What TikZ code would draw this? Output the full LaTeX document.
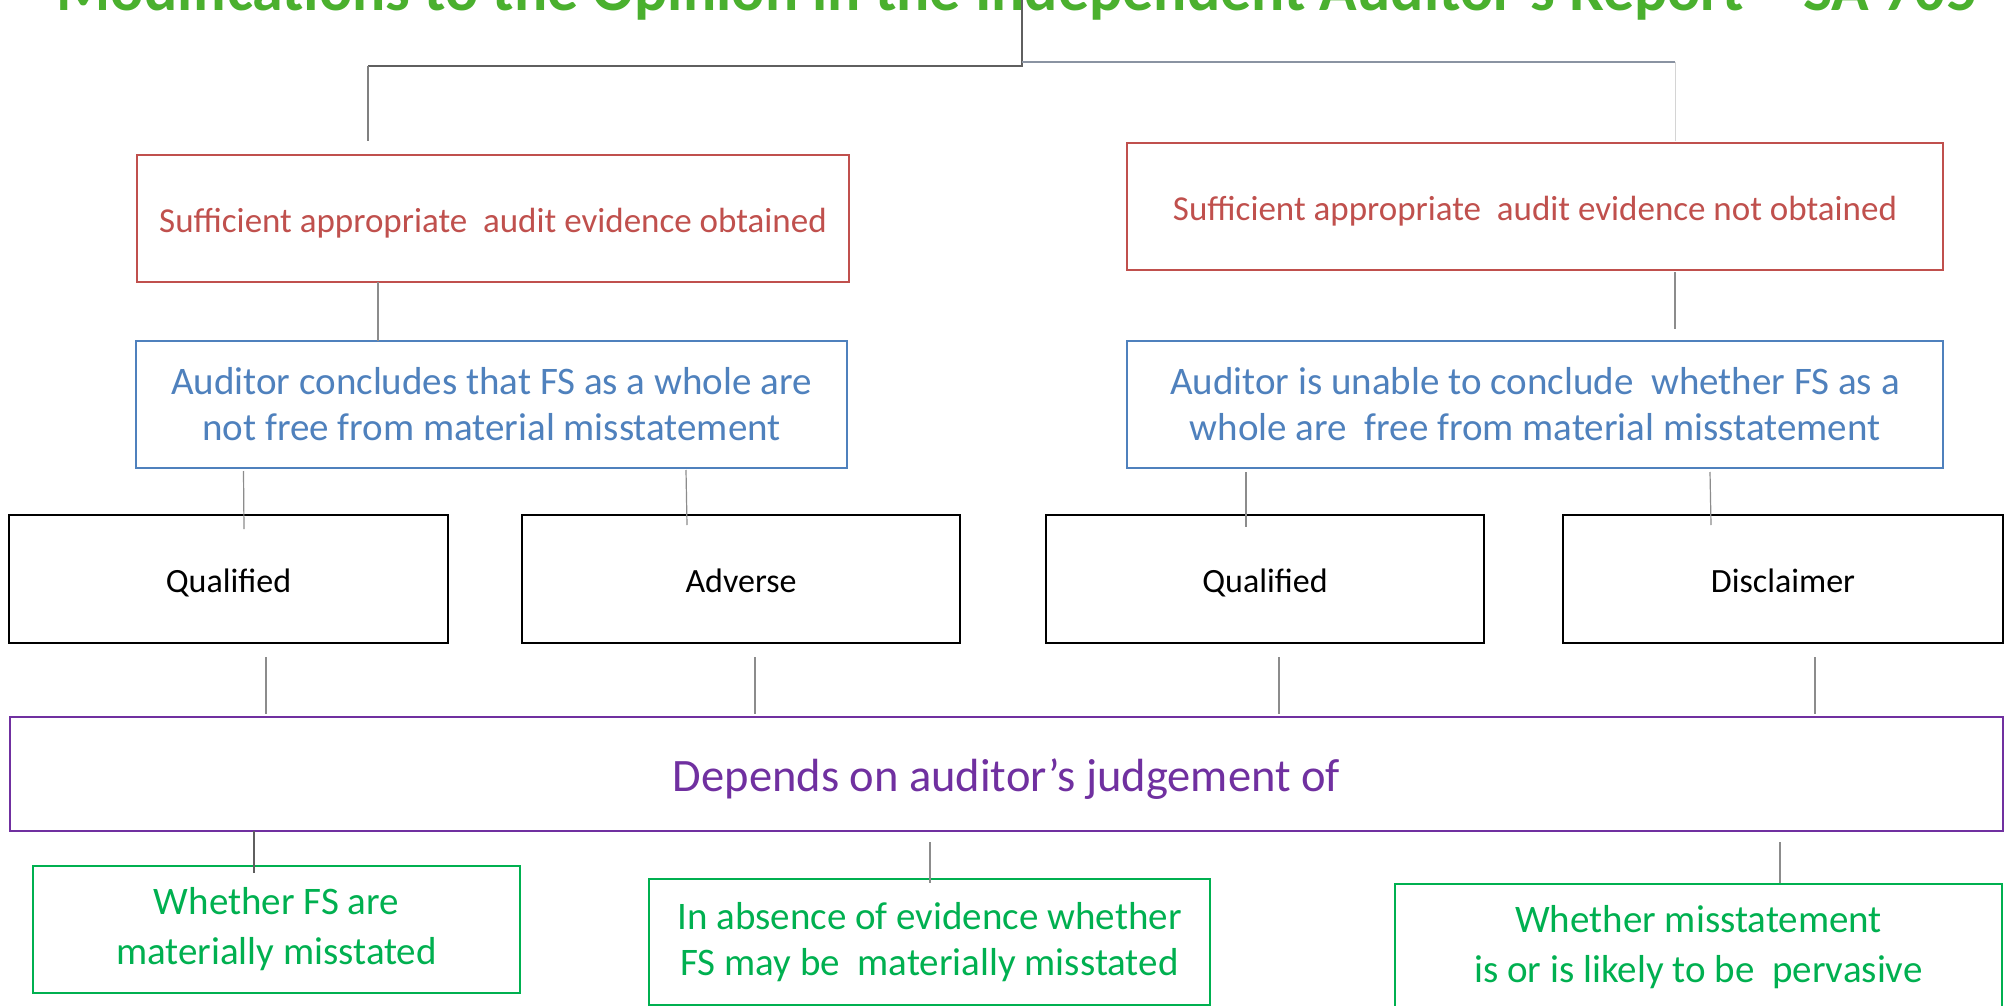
\documentclass[tikz,border=0pt]{standalone}
\usepackage{fontspec}
\setmainfont{Carlito}
\definecolor{tgreen}{RGB}{74,176,46}
\definecolor{cred}{HTML}{C0504D}
\definecolor{cblue}{HTML}{4F81BD}
\definecolor{cpurple}{HTML}{7030A0}
\definecolor{cgreen}{HTML}{00B050}
\definecolor{lgray}{HTML}{8C8C8C}
\definecolor{dgray}{HTML}{5F5F5F}
\definecolor{bgray}{HTML}{8A93A2}
\definecolor{fgray}{HTML}{D4D4D4}
\begin{document}
\begin{tikzpicture}[x=1pt,y=-1pt,
  box/.style={draw, line width=2pt, rectangle, inner sep=0pt, outer sep=0pt, align=center},
  redbox/.style={box, text height=27pt, text depth=0pt, draw=cred, text=cred, font=\fontsize{35}{42}\selectfont, minimum height=127pt},
  bluebox/.style={box, draw=cblue, text=cblue, font=\fontsize{39}{46}\selectfont, minimum height=127pt},
  blackbox/.style={box, text height=26.4pt, text depth=0pt, draw=black, text=black, font=\fontsize{34}{40}\selectfont, minimum height=128pt},
  purplebox/.style={box, text height=34.3pt, text depth=0pt, draw=cpurple, text=cpurple, font=\fontsize{46.5}{54}\selectfont, minimum height=114pt},
  greenbox/.style={box, draw=cgreen, text=cgreen, font=\fontsize{39}{48}\selectfont, minimum height=126pt},
  conn/.style={draw=lgray, line width=1.2pt},
  busdark/.style={draw=dgray, line width=1.6pt},
  busblue/.style={draw=bgray, line width=2pt},
  busfaint/.style={draw=fgray, line width=1pt}]
\useasboundingbox (0,0) rectangle (2013,1006);
\clip (0,0) rectangle (2013,1006);
\fill[white] (0,0) rectangle (2013,1006);

% title
\node[font=\bfseries\fontsize{62}{64}\selectfont, text=tgreen, anchor=base, inner sep=0pt] (title) at (1017,11)
  {Modifications to the Opinion in the Independent Auditor’s Report – SA 705};

% boxes
\node[redbox, minimum width=712pt] (R1) at (493,218.5) {Sufficient appropriate~ audit evidence obtained};
\node[redbox, minimum width=816pt] (R2) at (1535,206.5) {Sufficient appropriate~ audit evidence not obtained};
\node[bluebox, minimum width=711pt] (B1) at (491.5,404.5) {Auditor concludes that FS as a whole are\\not free from material misstatement};
\node[bluebox, minimum width=816pt] (B2) at (1535,404.5) {Auditor is unable to conclude~ whether FS as a\\whole are~ free from material misstatement};
\node[blackbox, minimum width=439pt] (Q1) at (228.5,579) {Qualified};
\node[blackbox, minimum width=438pt] (A) at (741,579) {Adverse};
\node[blackbox, minimum width=438pt] (Q2) at (1265,579) {Qualified};
\node[blackbox, minimum width=440pt] (Dc) at (1783,579) {Disclaimer};
\node[purplebox, minimum width=1993pt] (D) at (1006.5,774) {Depends on auditor’s judgement of};
\node[greenbox, minimum width=487pt, minimum height=127pt, font=\fontsize{39}{50}\selectfont] (G1) at (276.5,929.5) {Whether FS are\\materially misstated};
\node[greenbox, minimum width=561pt, font=\fontsize{39}{46}\selectfont] (G2) at (929.5,942) {In absence of evidence whether\\FS may be~ materially misstated};
\node[greenbox, minimum width=607pt, font=\fontsize{39}{50}\selectfont] (G3) at (1698.5,947) {Whether misstatement\\is or is likely to be~ pervasive};

% top bus
\coordinate (tb) at (1022,0);
\coordinate (tbL) at (1022,66);
\coordinate (tbR) at (1022,62);
\coordinate (lc) at ([xshift=-125pt,yshift=14pt]R1.north);
\coordinate (rc) at ([xshift=140pt,yshift=2pt]R2.north);
\draw[busdark] (tb) -- (tbL) -- (tbL -| lc);
\draw[conn, draw=gray] (tbL -| lc) -- (lc);
\draw[busblue] (tbR) -- (tbR -| rc);
\draw[busfaint] (tbR -| rc) -- (rc);

% connectors
\draw[conn] ([xshift=-115pt]R1.south) -- ([xshift=-113.5pt]B1.north);
\draw[conn] ([xshift=140pt,yshift=-2pt]R2.south) -- ([xshift=140pt,yshift=12pt]B2.north);
\draw[conn] ([xshift=-248pt,yshift=-3pt]B1.south) -- ([xshift=15.5pt,yshift=-14pt]Q1.north);
\draw[conn] ([xshift=194.5pt,yshift=-2pt]B1.south) -- ([xshift=-54pt,yshift=-10pt]A.north);
\draw[conn] ([xshift=-289pt,yshift=-4pt]B2.south) -- ([xshift=-19pt,yshift=-12pt]Q2.north);
\draw[conn] ([xshift=175pt,yshift=-4pt]B2.south) -- ([xshift=-72pt,yshift=-10pt]Dc.north);
\draw[conn] ([xshift=37.5pt,yshift=-14pt]Q1.south) -- ([xshift=-740.5pt,yshift=3pt]D.north);
\draw[conn] ([xshift=14pt,yshift=-14pt]A.south) -- ([xshift=-251.5pt,yshift=3pt]D.north);
\draw[conn] ([xshift=14pt,yshift=-14pt]Q2.south) -- ([xshift=272.5pt,yshift=3pt]D.north);
\draw[conn] ([xshift=32pt,yshift=-14pt]Dc.south) -- ([xshift=808.5pt,yshift=3pt]D.north);
\draw[conn, draw=dgray] ([xshift=-752.5pt]D.south) -- ([xshift=-22.5pt,yshift=-7pt]G1.north);
\draw[conn] ([xshift=-76.5pt,yshift=-11pt]D.south) -- ([xshift=0.5pt,yshift=-4pt]G2.north);
\draw[conn] ([xshift=773.5pt,yshift=-11pt]D.south) -- ([xshift=81.5pt,yshift=1pt]G3.north);
\end{tikzpicture}
\end{document}
